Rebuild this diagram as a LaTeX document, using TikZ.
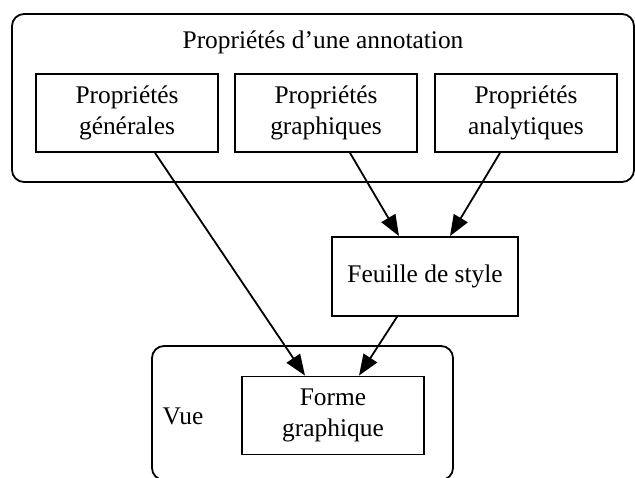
\documentclass[tikz,border=0pt]{standalone}
\usepackage{fontspec}
\setmainfont{Liberation Serif}
\usetikzlibrary{arrows.meta}
\begin{document}
\begin{tikzpicture}[x=1pt,y=-1pt,
  every node/.style={font=\fontsize{25.4}{31}\selectfont},
  box/.style={draw,line width=1.8pt,minimum width=182pt,minimum height=78pt,align=center,inner sep=0pt},
  cluster/.style={draw,line width=1.8pt,rounded corners=12pt},
  link/.style={line width=1.8pt,-{Triangle[length=21pt,width=16pt]}}]
\useasboundingbox (0,0) rectangle (635,478);
\draw[cluster] (12,14) rectangle (634,182);
\draw[cluster] (152,346) rectangle (453,480);
\node (title) at (323,42) {Propriétés d’une annotation};
\node[box] (gen) at (127,113) {Propriétés\\générales};
\node[box] (gra) at (326,113) {Propriétés\\graphiques};
\node[box] (ana) at (526,113) {Propriétés\\analytiques};
\node[box,minimum width=186pt,minimum height=79pt] (fs) at (425,276.5) {Feuille de style};
\node[box] (fg) at (333,415.5) {Forme\\graphique};
\node (vue) at (183,416) {Vue};
\draw[link] ([xshift=28pt]gen.south) -- ([xshift=-28pt]fg.north);
\draw[link] ([xshift=24pt]gra.south) -- ([xshift=-26pt]fs.north);
\draw[link] ([xshift=-26pt]ana.south) -- ([xshift=25pt]fs.north);
\draw[link] ([xshift=-28pt]fs.south) -- ([xshift=26pt]fg.north);
\end{tikzpicture}
\end{document}
